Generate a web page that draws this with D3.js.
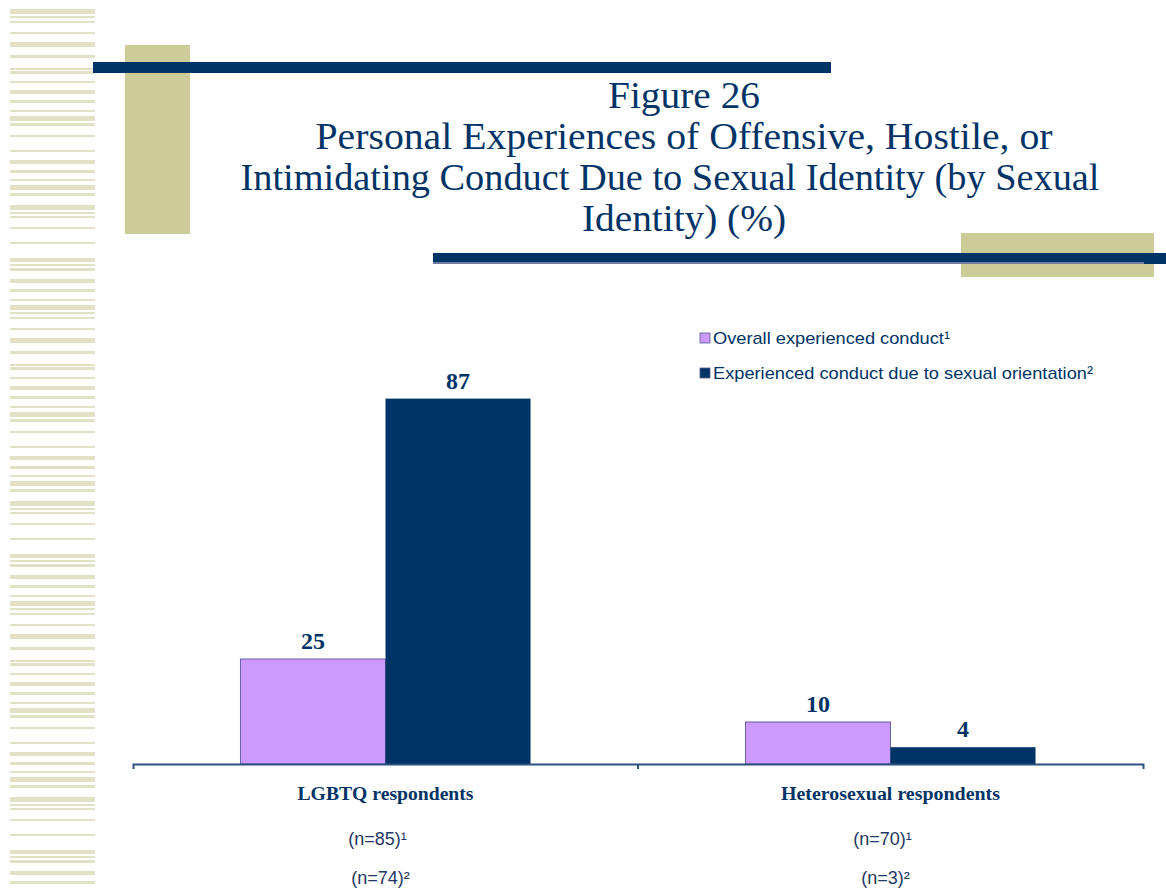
<!DOCTYPE html>
<html>
<head>
<meta charset="utf-8">
<script src="https://cdn.jsdelivr.net/npm/d3@7"></script>
<style>
  body { margin: 0; background: #fff; }
  svg { display: block; }
</style>
</head>
<body>
<svg width="1166" height="891"></svg>
<script>
(function (d3) {
    'use strict';

    // chart data
    const categories = ['LGBTQ respondents', 'Heterosexual respondents'];
    const series = ['Overall experienced conduct\u00b9', 'Experienced conduct due to sexual orientation\u00b2'];
    const overall = [25, 10];
    const dueToOrientation = [87, 4];
    const sampleOverall = ['(n=85)\u00b9', '(n=70)\u00b9'];
    const sampleOrientation = ['(n=74)\u00b2', '(n=3)\u00b2'];
    const titleLines = [
        'Figure 26',
        'Personal Experiences of Offensive, Hostile, or',
        'Intimidating Conduct Due to Sexual Identity (by Sexual',
        'Identity) (%)'
    ];

    const navy = '#003366';
    const purple = '#cc99ff';
    const olive = '#cccc99';
    const serif = '"Liberation Serif", "Times New Roman", Times, serif';
    const sans = '"Liberation Sans", Arial, sans-serif';

    const svg = d3.select('svg');

    // --- slide decoration ---
    // stripe tile for the left edge (offset, height)
    const stripeTile = [[0,5],[7,2],[12,2],[23,2],[33,5],[46,3],[59,2],[62,3],[72,2],[81,4],
        [91,3],[101,2],[107,5],[114,3],[126,2],[141,2],[151,4],[161,3],[170,2],[176,5],[184,3],
        [196,5],[203,2],[207,2],[218,2],[233,2],[249,4],[255,2],[259,3],[270,4],[280,3],[290,2]];
    const stripes = [];
    for (let base = 9; base < 891; base += 296) {
        stripeTile.forEach(([o, h]) => { if (base + o < 889) stripes.push([base + o, h]); });
    }
    svg.append('g').selectAll('rect').data(stripes).enter().append('rect')
        .attr('x', 10).attr('width', 85)
        .attr('y', d => d[0]).attr('height', d => d[1])
        .attr('fill', '#e3e1c5');

    svg.append('rect').attr('x', 125).attr('y', 45).attr('width', 65).attr('height', 189).attr('fill', olive);
    svg.append('rect').attr('x', 93).attr('y', 62).attr('width', 738).attr('height', 11).attr('fill', navy);

    svg.append('rect').attr('x', 961).attr('y', 233).attr('width', 193).attr('height', 44).attr('fill', olive);
    svg.append('rect').attr('x', 433).attr('y', 253).attr('width', 733).attr('height', 9).attr('fill', navy);
    svg.append('rect').attr('x', 433).attr('y', 262).attr('width', 711).attr('height', 2).attr('fill', '#6f7f9f');
    svg.append('rect').attr('x', 1144).attr('y', 253).attr('width', 22).attr('height', 11).attr('fill', navy);

    // --- title ---
    const titleWidths = [152, 737, 859, 204];
    const titleCenters = [684, 684, 670, 684];
    svg.append('g').selectAll('text').data(titleLines).enter().append('text')
        .attr('x', (d, i) => titleCenters[i])
        .attr('y', (d, i) => 108 + i * 41)
        .attr('text-anchor', 'middle')
        .attr('font-family', serif)
        .attr('font-size', 38)
        .attr('textLength', (d, i) => titleWidths[i])
        .attr('lengthAdjust', 'spacingAndGlyphs')
        .attr('fill', navy)
        .text(d => d);

    // --- chart ---
    const margin = { left: 133, right: 1143, top: 344, bottom: 764 };

    const x0 = d3.scaleBand().domain(categories).range([margin.left, margin.right]).padding(0);
    const x1 = d3.scaleBand().domain(series).range([0, x0.bandwidth()])
        .paddingInner(0).paddingOuter(0.741);
    const y = d3.scaleLinear().domain([0, 100]).range([margin.bottom, margin.top]);
    const color = d3.scaleOrdinal().domain(series).range([purple, navy]);

    const rows = categories.map((c, i) => ({
        category: c,
        values: [
            { key: series[0], value: overall[i] },
            { key: series[1], value: dueToOrientation[i] }
        ]
    }));

    const groups = svg.append('g').selectAll('g').data(rows).enter().append('g')
        .attr('transform', d => `translate(${x0(d.category)},0)`);

    groups.selectAll('rect').data(d => d.values).enter().append('rect')
        .attr('x', d => x1(d.key))
        .attr('width', x1.bandwidth())
        .attr('y', d => y(d.value))
        .attr('height', d => y(0) - y(d.value))
        .attr('fill', d => color(d.key))
        .attr('stroke', d => d.key === series[0] ? '#6a5fa6' : 'none')
        .attr('stroke-width', 1);

    groups.selectAll('text.val').data(d => d.values).enter().append('text')
        .attr('class', 'val')
        .attr('x', d => x1(d.key) + x1.bandwidth() / 2)
        .attr('y', d => y(d.value) - 10)
        .attr('text-anchor', 'middle')
        .attr('font-family', serif)
        .attr('font-weight', 'bold')
        .attr('font-size', 24)
        .attr('fill', navy)
        .text(d => d.value);

    // x axis
    const xAxis = d3.axisBottom(x0).tickValues([]).tickSizeOuter(5);
    const axisG = svg.append('g')
        .attr('transform', `translate(0,${margin.bottom})`)
        .call(xAxis);
    axisG.select('.domain').attr('stroke', '#2a5080').attr('stroke-width', 2);
    axisG.append('line')
        .attr('x1', x0.range()[0] + x0.step()).attr('x2', x0.range()[0] + x0.step())
        .attr('y1', 0).attr('y2', 5)
        .attr('stroke', '#2a5080').attr('stroke-width', 2);

    // category labels
    const catWidths = [176, 219];
    svg.append('g').selectAll('text').data(categories).enter().append('text')
        .attr('x', d => x0(d) + x0.bandwidth() / 2)
        .attr('y', 800)
        .attr('text-anchor', 'middle')
        .attr('font-family', serif)
        .attr('font-weight', 'bold')
        .attr('font-size', 18)
        .attr('textLength', (d, i) => catWidths[i])
        .attr('lengthAdjust', 'spacingAndGlyphs')
        .attr('fill', navy)
        .text(d => d);

    const nLabels = [sampleOverall, sampleOrientation];
    nLabels.forEach((arr, j) => {
        svg.append('g').selectAll('text').data(arr).enter().append('text')
            .attr('x', (d, i) => x0(categories[i]) + x0.bandwidth() / 2 - 8 + j * 3)
            .attr('y', 845 + j * 39)
            .attr('text-anchor', 'middle')
            .attr('font-family', sans)
            .attr('font-size', 18)
            .attr('fill', '#1f3864')
            .text(d => d);
    });

    // legend
    const legendWidths = [237, 380];
    const legend = svg.append('g').selectAll('g').data(series).enter().append('g')
        .attr('transform', (d, i) => `translate(700,${333 + i * 35})`);
    legend.append('rect')
        .attr('width', 10).attr('height', 10)
        .attr('fill', d => color(d))
        .attr('stroke', '#5a5a8a').attr('stroke-width', 0.8);
    legend.append('text')
        .attr('x', 13).attr('y', 11)
        .attr('font-family', sans)
        .attr('font-size', 17)
        .attr('textLength', (d, i) => legendWidths[i])
        .attr('lengthAdjust', 'spacingAndGlyphs')
        .attr('fill', navy)
        .text(d => d);

}(d3));
</script>
</body>
</html>
